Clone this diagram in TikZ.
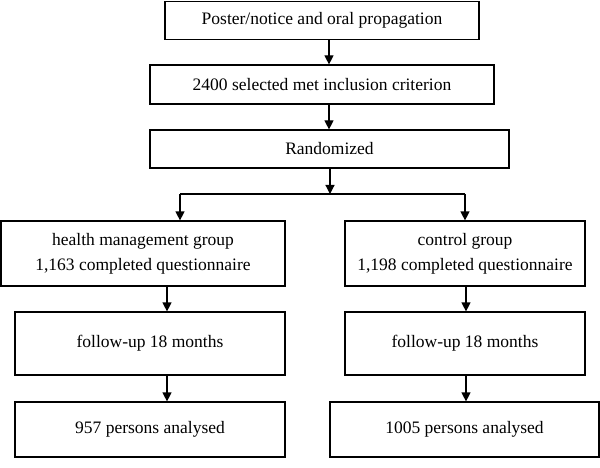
\documentclass[tikz,border=0pt]{standalone}
\usepackage{fontspec}
\setmainfont{Liberation Serif}
\usetikzlibrary{arrows.meta}
\begin{document}
\begin{tikzpicture}[x=1pt,y=-1pt,
  box/.style={draw, line width=1.2pt, rectangle, align=center, inner sep=0pt,
    font=\fontsize{17.5}{25}\selectfont},
  arr/.style={line width=1.2pt, -{Triangle[length=9pt,width=9pt]}},
  ln/.style={line width=1.2pt}]
\useasboundingbox (0,0) rectangle (600,468);
\node[box, minimum width=314pt, minimum height=37.5pt] (b1) at (322,20.5) {Poster/notice and oral propagation};
\node[box, minimum width=344pt, minimum height=39pt] (b2) at (322,84.5) {2400 selected met inclusion criterion};
\node[box, minimum width=359pt, minimum height=38pt] (b3) at (329.5,149) {Randomized};
\node[box, minimum width=284pt, minimum height=65pt] (L1) at (143,253.5) {health management group\\1,163 completed questionnaire};
\node[box, minimum width=240pt, minimum height=65pt] (R1) at (465,253.5) {control group\\1,198 completed questionnaire};
\node[box, minimum width=270pt, minimum height=63pt] (L2) at (150,343.5) {follow-up 18 months};
\node[box, minimum width=240pt, minimum height=63pt] (R2) at (465,343.5) {follow-up 18 months};
\node[box, minimum width=270pt, minimum height=55pt] (L3) at (150,429.5) {957 persons analysed};
\node[box, minimum width=269pt, minimum height=55pt] (R3) at (464.5,429.5) {1005 persons analysed};
\coordinate (cx) at (329,0);
\coordinate (j) at (330,194);
\coordinate (jl) at (180,194);
\coordinate (jr) at (465,194);
\coordinate (xl) at (167,0);
\coordinate (xr) at (466,0);
\draw[arr] (b1.south -| cx) -- (b2.north -| cx);
\draw[arr] (b2.south -| cx) -- (b3.north -| cx);
\draw[ln] (jl) -- (jr);
\draw[arr] (b3.south -| j) -- (j);
\draw[arr] (jl) -- (L1.north -| jl);
\draw[arr] (jr) -- (R1.north -| jr);
\draw[arr] (L1.south -| xl) -- (L2.north -| xl);
\draw[arr] (L2.south -| xl) -- (L3.north -| xl);
\draw[arr] (R1.south -| xr) -- (R2.north -| xr);
\draw[arr] (R2.south -| xr) -- (R3.north -| xr);
\end{tikzpicture}
\end{document}
